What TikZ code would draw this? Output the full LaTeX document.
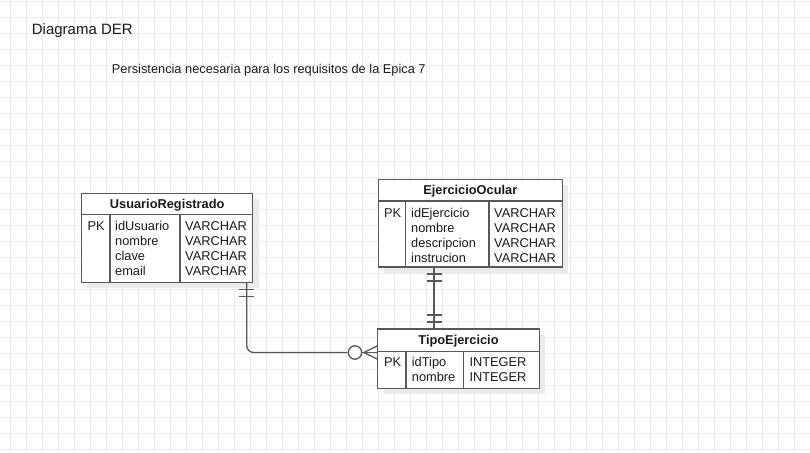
\documentclass[tikz,border=0pt]{standalone}
\usepackage{fontspec}
\setmainfont{Liberation Sans}
\usetikzlibrary{shadows,calc}
\definecolor{gridc}{HTML}{EBEBEB}
\definecolor{linec}{HTML}{585858}
\definecolor{txt}{HTML}{1A1A1A}
\definecolor{shade}{HTML}{EBEBEB}
\begin{document}
\begin{tikzpicture}[x=1pt,y=-1pt,
  tbl/.style={draw=linec, line width=1.4pt, fill=white, rectangle, inner sep=0pt, outer sep=0pt, anchor=north west,
    drop shadow={shadow xshift=6pt, shadow yshift=-6pt, fill=shade, opacity=1}},
  sep/.style={draw=linec, line width=1.4pt},
  conn/.style={draw=linec, line width=1.3pt},
  cell/.style={anchor=base west, inner sep=0pt, font=\fontsize{12.8}{14}\selectfont, text=txt},
  hdr/.style={anchor=base, inner sep=0pt, font=\fontsize{12.8}{14}\selectfont\bfseries, text=txt},
  ttl/.style={anchor=base west, inner sep=0pt, text=txt}]
\useasboundingbox (0,0) rectangle (810,452);
\fill[white] (0,0) rectangle (810,452);
% grid
\foreach \i in {0,...,49} {\draw[gridc, line width=0.9pt] ({10.7+16*\i},0) -- ({10.7+16*\i},452);}
\foreach \j in {0,...,28} {\draw[gridc, line width=0.9pt] (0,{1.5+16*\j}) -- (810,{1.5+16*\j});}
% titles
\node[ttl, font=\fontsize{15}{18}\selectfont] (title) at (31.7,34.3) {Diagrama DER};
\node[ttl, font=\fontsize{12.8}{15}\selectfont] (subtitle) at (111.7,73.3) {Persistencia necesaria para los requisitos de la Epica 7};

% UsuarioRegistrado
\node[tbl, minimum width=171pt, minimum height=89pt] (usr) at (81.7,193.3) {};
\draw[sep] (81.7,214.3) -- (252.7,214.3);
\draw[sep] (110,214.3) -- (110,282.3);
\draw[sep] (180,214.3) -- (180,282.3);
\node[hdr] (usrh) at (167.2,208.3) {UsuarioRegistrado};
\node[cell] (usrpk) at (87.3,230.7) {PK};
\foreach \t/\ty [count=\k from 0] in {idUsuario/VARCHAR, nombre/VARCHAR, clave/VARCHAR, email/VARCHAR} {
  \node[cell] (usrn\k) at (115,230.7+15*\k) {\t};
  \node[cell] (usrt\k) at (185,230.7+15*\k) {\ty};
}

% EjercicioOcular
\node[tbl, minimum width=184pt, minimum height=87.7pt] (ejo) at (378.3,179.3) {};
\draw[sep] (378.3,201) -- (562.3,201);
\draw[sep] (405.7,201) -- (405.7,267);
\draw[sep] (489,201) -- (489,267);
\node[hdr] (ejoh) at (470.3,194.2) {EjercicioOcular};
\node[cell] (ejopk) at (384,217.7) {PK};
\foreach \t/\ty [count=\k from 0] in {idEjercicio/VARCHAR, nombre/VARCHAR, descripcion/VARCHAR, instrucion/VARCHAR} {
  \node[cell] (ejon\k) at (411,217.7+15*\k) {\t};
  \node[cell] (ejot\k) at (494,217.7+15*\k) {\ty};
}

% TipoEjercicio
\node[tbl, minimum width=161.6pt, minimum height=59.3pt] (tipo) at (377.7,329) {};
\draw[sep] (377.7,351.7) -- (539.3,351.7);
\draw[sep] (406,351.7) -- (406,388.3);
\draw[sep] (463.3,351.7) -- (463.3,388.3);
\node[hdr] (tipoh) at (458.5,344) {TipoEjercicio};
\node[cell] (tipopk) at (384,366.7) {PK};
\foreach \t/\ty [count=\k from 0] in {idTipo/INTEGER, nombre/INTEGER} {
  \node[cell] (tipon\k) at (411.7,366.7+14.7*\k) {\t};
  \node[cell] (tipot\k) at (469.3,366.7+14.7*\k) {\ty};
}

% connector EjercicioOcular -- TipoEjercicio (one to one)
\coordinate (a1) at ([xshift=-36.3pt]ejo.south);
\coordinate (a2) at (a1 |- tipo.north);
\draw[conn] (a1) -- (a2);
\draw[conn] ([yshift=-7pt]a1) ++(-7.5,0) -- ++(15,0);
\draw[conn] ([yshift=-14pt]a1) ++(-7.5,0) -- ++(15,0);
\draw[conn] ([yshift=7pt]a2) ++(-7.5,0) -- ++(15,0);
\draw[conn] ([yshift=14pt]a2) ++(-7.5,0) -- ++(15,0);

% connector UsuarioRegistrado -- TipoEjercicio (one to zero-or-many)
\node[draw=linec, line width=1.3pt, circle, minimum size=13.4pt, inner sep=0pt, fill=white] (circ) at (355,352.5) {};
\coordinate (b1) at ([xshift=79.5pt]usr.south);
\coordinate (b2) at (tipo.west |- circ.east);
\draw[conn, rounded corners=7pt] (b1) |- (circ.west);
\draw[conn] ([yshift=-7pt]b1) ++(-7.5,0) -- ++(15,0);
\draw[conn] ([yshift=-14pt]b1) ++(-7.5,0) -- ++(15,0);
\draw[conn] (circ.east) -- (b2);
\draw[conn] ([xshift=1.5pt]circ.east) -- ([yshift=6.8pt]b2);
\draw[conn] ([xshift=1.5pt]circ.east) -- ([yshift=-6.8pt]b2);
\end{tikzpicture}
\end{document}
